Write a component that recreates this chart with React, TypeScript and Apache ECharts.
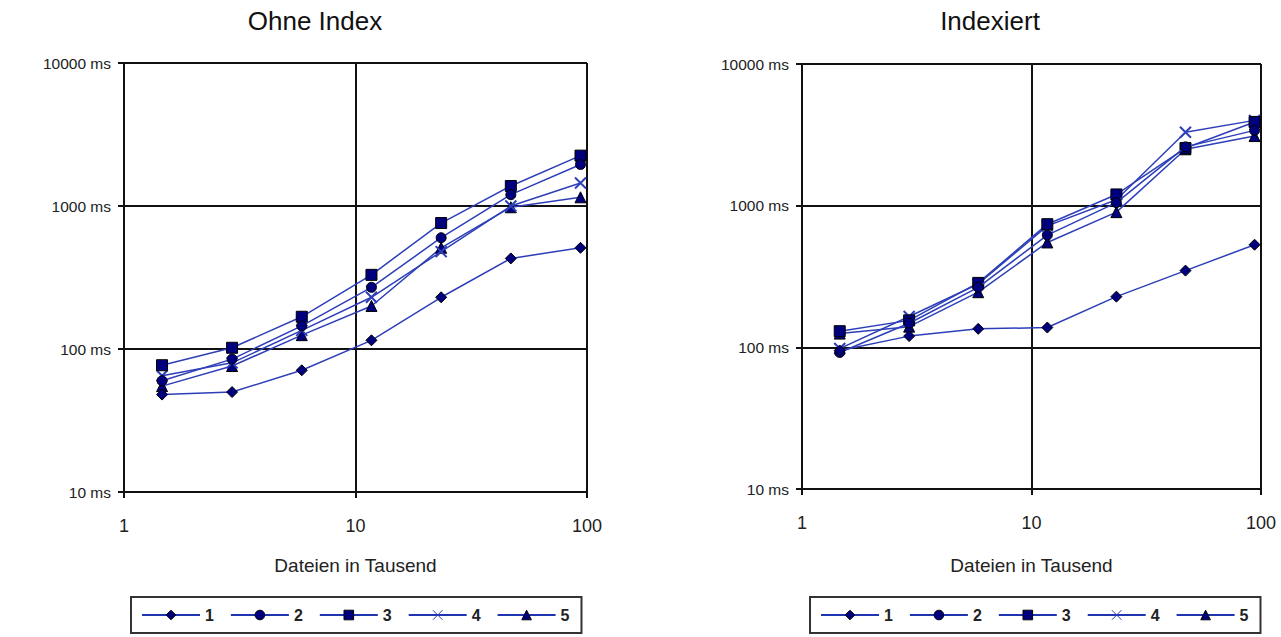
import React, { useEffect, useRef } from "react";
import * as echarts from "echarts";

const xValues = [1.46, 2.93, 5.86, 11.72, 23.44, 46.88, 93.75];
const seriesNames = ["1", "2", "3", "4", "5"];

// Ohne Index (ms)
const leftS1 = [48, 50, 71, 115, 230, 430, 510];
const leftS2 = [60, 85, 145, 270, 600, 1200, 1950];
const leftS3 = [77, 102, 168, 330, 760, 1380, 2250];
const leftS4 = [65, 80, 135, 230, 480, 1000, 1450];
const leftS5 = [55, 76, 125, 200, 510, 980, 1150];

// Indexiert (ms)
const rightS1 = [95, 120, 135, 138, 228, 348, 530];
const rightS2 = [92, 148, 265, 620, 1050, 2600, 3400];
const rightS3 = [130, 155, 285, 740, 1200, 2550, 3900];
const rightS4 = [98, 165, 280, 720, 1100, 3300, 4000];
const rightS5 = [125, 140, 245, 550, 900, 2500, 3100];

const leftData = [leftS1, leftS2, leftS3, leftS4, leftS5];
const rightData = [rightS1, rightS2, rightS3, rightS4, rightS5];

const symbols = ["diamond", "circle", "rect", "path://M0,0L10,10M10,0L0,10", "triangle"];
const symbolSizes = [11, 10, 11, 11, 11];

const LINE = "#2d3fb8";
const FILL = "#00007f";
const FONT = "'Liberation Sans', Arial, sans-serif";

export default function App() {
  const ref = useRef<HTMLDivElement>(null);
  useEffect(() => {
    if (!ref.current) return;
    const chart = echarts.init(ref.current, null, { renderer: "svg" });

    const mkX = (gridIndex: number, nameGap: number) => ({
      type: "log",
      logBase: 10,
      gridIndex,
      min: 1,
      max: 100,
      name: "Dateien in Tausend",
      nameLocation: "middle",
      nameGap,
      nameTextStyle: { fontFamily: FONT, fontSize: 19, color: "#222" },
      axisLine: { show: true, lineStyle: { color: "#111", width: 2 } },
      axisTick: { show: true, inside: false, length: 6, lineStyle: { color: "#111", width: 2 } },
      axisLabel: { fontFamily: FONT, fontSize: 18, color: "#222", margin: 25 },
      splitLine: { show: true, lineStyle: { color: "#111", width: 2 } },
      minorTick: { show: false },
    });
    const mkY = (gridIndex: number) => ({
      type: "log",
      logBase: 10,
      gridIndex,
      min: 10,
      max: 10000,
      axisLine: { show: true, lineStyle: { color: "#111", width: 2 } },
      axisTick: { show: true, inside: false, length: 6, lineStyle: { color: "#111", width: 2 } },
      axisLabel: {
        fontFamily: FONT,
        fontSize: 15.5,
        color: "#222",
        margin: 13,
        formatter: (v: number) => `${v} ms`,
      },
      splitLine: { show: true, lineStyle: { color: "#111", width: 2 } },
    });

    const mkSeries = (data: number[][], idx: number) =>
      data.map((vals, i) => ({
        name: seriesNames[i],
        type: "line",
        xAxisIndex: idx,
        yAxisIndex: idx,
        data: xValues.map((x, k) => [x, vals[k]]),
        symbol: symbols[i],
        symbolSize: symbolSizes[i],
        showSymbol: true,
        lineStyle: { color: LINE, width: 1.5 },
        itemStyle:
          i === 3
            ? { color: LINE, borderColor: LINE, borderWidth: 2 }
            : { color: FILL, borderColor: "#000", borderWidth: 1 },
        emphasis: { disabled: true },
        z: 10 - i,
      }));

    const mkLegend = (left: number) => ({
      left,
      top: 597,
      orient: "horizontal",
      data: seriesNames,
      itemWidth: 58,
      itemHeight: 12,
      itemGap: 16,
      padding: [10, 12, 10, 10],
      borderColor: "#333",
      borderWidth: 2,
      selectedMode: false,
      itemStyle: { borderWidth: 1 },
      lineStyle: { width: 2, color: "#1f35b0" },
      textStyle: { fontFamily: FONT, fontSize: 16, fontWeight: "bold", color: "#222" },
    });

    chart.setOption({
      animation: false,
      backgroundColor: "#fff",
      title: [
        {
          text: "Ohne Index",
          left: 310,
          top: 3,
          textAlign: "center",
          textStyle: { fontFamily: FONT, fontSize: 26, fontWeight: "normal", color: "#111" },
        },
        {
          text: "Indexiert",
          left: 985,
          top: 3,
          textAlign: "center",
          textStyle: { fontFamily: FONT, fontSize: 26, fontWeight: "normal", color: "#111" },
        },
      ],
      grid: [
        { left: 124, top: 63, width: 463, height: 429 },
        { left: 802, top: 64, width: 459, height: 425 },
      ],
      xAxis: [mkX(0, 64), mkX(1, 67)],
      yAxis: [mkY(0), mkY(1)],
      legend: [mkLegend(131), mkLegend(810)],
      series: [...mkSeries(leftData, 0), ...mkSeries(rightData, 1)],
    });

    return () => chart.dispose();
  }, []);

  return (
    <div
      ref={ref}
      style={{ position: "fixed", left: 0, top: 0, width: 1281, height: 637 }}
    />
  );
}
